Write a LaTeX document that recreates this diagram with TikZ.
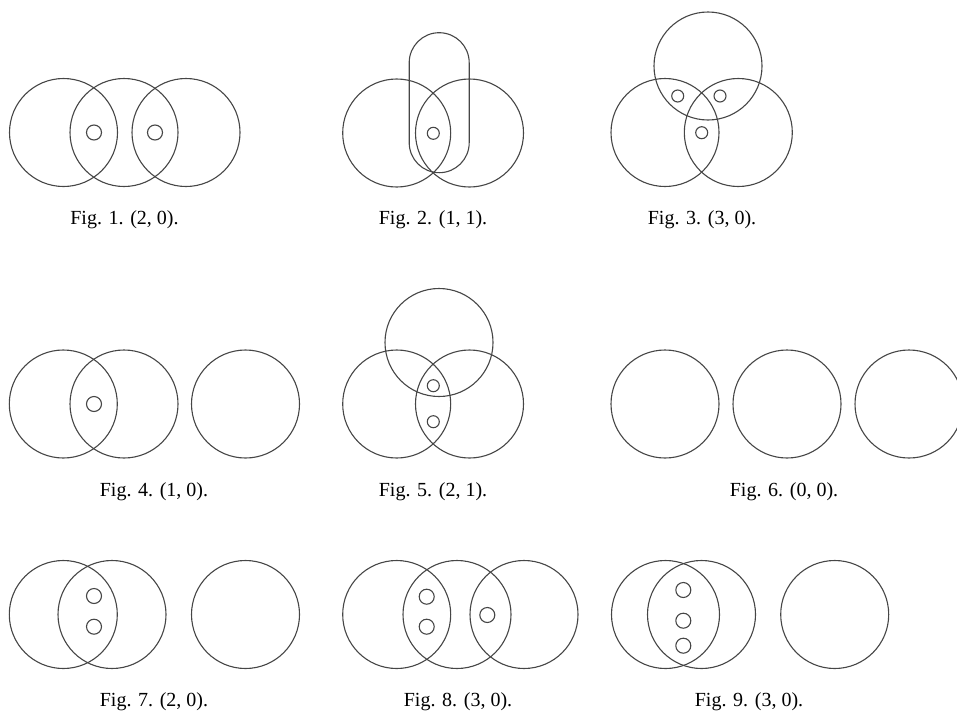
\documentclass[tikz,border=0pt]{standalone}
\usepackage{fontspec}
\setmainfont{Liberation Serif}
\usepackage{tikz}
\usetikzlibrary{positioning}
\definecolor{setline}{RGB}{70,70,70}
\tikzset{
  set/.style={circle, draw=setline, line width=1.1pt, minimum size=108pt, inner sep=0pt},
  pt/.style={circle, draw=setline, line width=1.1pt, minimum size=15pt, inner sep=0pt},
  spt/.style={pt, minimum size=12pt},
  pill/.style={rectangle, rounded corners=30pt, draw=setline, line width=1.1pt,
    minimum width=60pt, minimum height=140pt, inner sep=0pt},
  figcap/.style={anchor=base, inner sep=0pt, font=\fontsize{20}{24}\selectfont}
}
\begin{document}
\begin{tikzpicture}[x=1pt, y=-1pt]
  \useasboundingbox (0,0) rectangle (957,712);

  \node[set] (a1) at (63.5,132.5) {};
  \node[set] (b1) at (124,132.5) {};
  \node[set] (c1) at (186,132.5) {};
  \node[pt] (p11) at (94,132.5) {};
  \node[pt] (p12) at (155,132.5) {};
  \node[figcap] (f1) at (124.5,224) {Fig. 1. (2, 0).};

  \node[set] (a2) at (396.7,133) {};
  \node[set] (b2) at (469.5,133) {};
  \node[pill] (r2) at (439.2,102.7) {};
  \node[spt] (p21) at (433.3,133.3) {};
  \node[figcap] (f2) at (433,224) {Fig. 2. (1, 1).};

  \node[set] (t3) at (708,66) {};
  \node[set] (a3) at (665,132.5) {};
  \node[set] (b3) at (738.3,132.5) {};
  \node[spt] (p31) at (677.7,96) {};
  \node[spt] (p32) at (720,96) {};
  \node[spt] (p33) at (701.7,132.7) {};
  \node[figcap] (f3) at (702,224) {Fig. 3. (3, 0).};

  \node[set] (a4) at (63.3,404) {};
  \node[set] (b4) at (124,404) {};
  \node[set] (c4) at (245.5,404) {};
  \node[pt] (p41) at (94,404) {};
  \node[figcap] (f4) at (154,496) {Fig. 4. (1, 0).};

  \node[set] (t5) at (439,342.5) {};
  \node[set] (a5) at (396.7,404) {};
  \node[set] (b5) at (469.5,404) {};
  \node[spt] (p51) at (433.3,385.7) {};
  \node[spt] (p52) at (433.3,421.7) {};
  \node[figcap] (f5) at (433,496) {Fig. 5. (2, 1).};

  \node[set] (a6) at (665,404) {};
  \node[set] (b6) at (787,404) {};
  \node[set] (c6) at (909,404) {};
  \node[figcap] (f6) at (784,496) {Fig. 6. (0, 0).};

  \node[set] (a7) at (63.3,614.5) {};
  \node[set] (b7) at (112,614.5) {};
  \node[set] (c7) at (245.5,614.5) {};
  \node[pt] (p71) at (94,596) {};
  \node[pt] (p72) at (94,626.7) {};
  \node[figcap] (f7) at (154,706.5) {Fig. 7. (2, 0).};

  \node[set] (a8) at (396.7,614.5) {};
  \node[set] (b8) at (457,614.5) {};
  \node[set] (c8) at (524,614.5) {};
  \node[pt] (p81) at (426.7,596.7) {};
  \node[pt] (p82) at (426.7,626.7) {};
  \node[pt] (p83) at (487.3,615) {};
  \node[figcap] (f8) at (458,706.5) {Fig. 8. (3, 0).};

  \node[set] (a9) at (665.5,614.5) {};
  \node[set] (b9) at (701.5,614.5) {};
  \node[set] (c9) at (834.7,614.5) {};
  \node[pt] (p91) at (683.3,590) {};
  \node[pt] (p92) at (683.3,620.7) {};
  \node[pt] (p93) at (683.3,645.7) {};
  \node[figcap] (f9) at (749,706.5) {Fig. 9. (3, 0).};
\end{tikzpicture}
\end{document}
